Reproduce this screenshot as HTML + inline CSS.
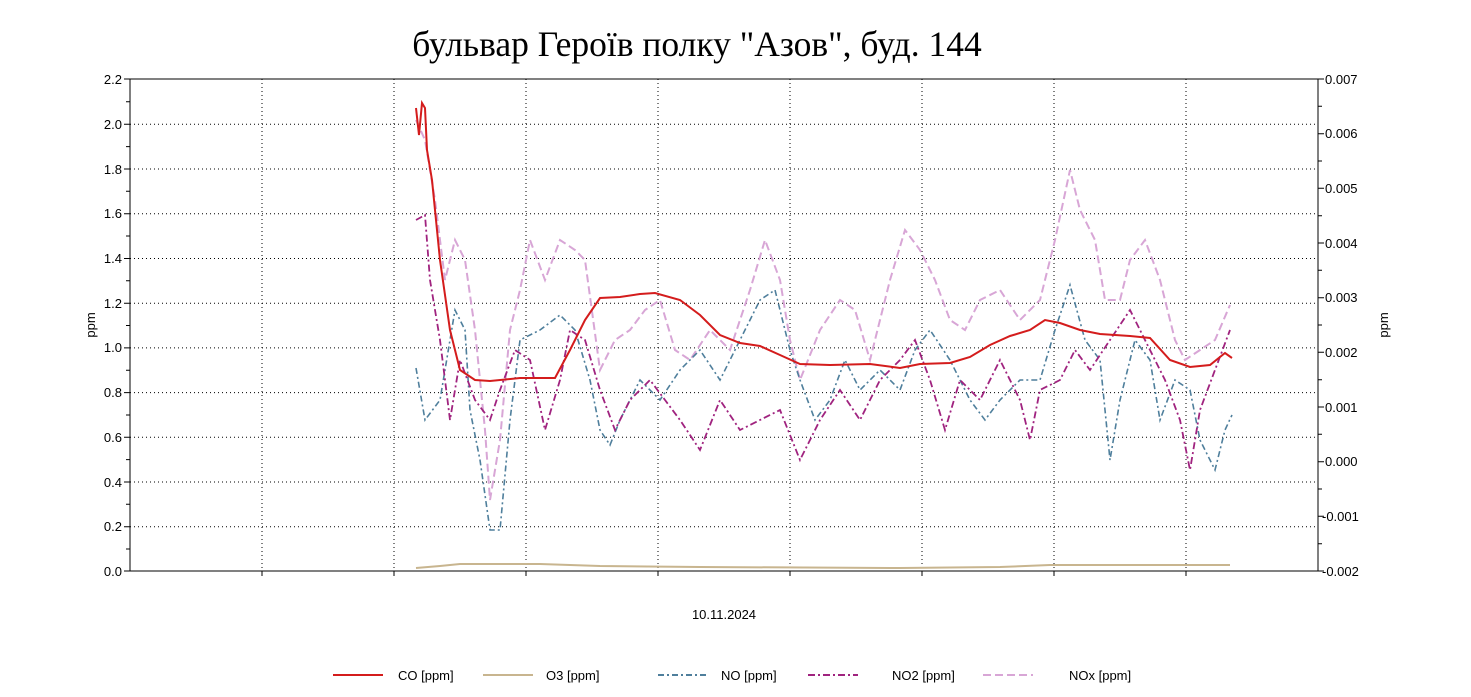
<!DOCTYPE html>
<html><head><meta charset="utf-8"><style>body{margin:0;background:#fff}svg{display:block}</style></head><body>
<svg width="1471" height="697" xmlns="http://www.w3.org/2000/svg" font-family="Liberation Sans, sans-serif">
<rect width="1471" height="697" fill="#fff"/>
<text x="697" y="56" text-anchor="middle" font-family="Liberation Serif, serif" font-size="35.5">бульвар Героїв полку "Азов", буд. 144</text>
<g stroke="#000" stroke-dasharray="1,3" stroke-width="1">
<path d="M262 79V571M394 79V571M526 79V571M658 79V571M790 79V571M922 79V571M1054 79V571M1186 79V571"/>
<path d="M130 124.3H1318M130 169H1318M130 213.7H1318M130 258.5H1318M130 303.2H1318M130 347.9H1318M130 392.6H1318M130 437.2H1318M130 482H1318M130 526.7H1318"/>
</g>
<rect x="130" y="79" width="1188" height="492" fill="none" stroke="#000"/>
<g stroke="#000">
<path d="M262 571v5M394 571v5M526 571v5M658 571v5M790 571v5M922 571v5M1054 571v5M1186 571v5"/>
<path d="M124 79h6M124 124.3h6M124 169h6M124 213.7h6M124 258.5h6M124 303.2h6M124 347.9h6M124 392.6h6M124 437.2h6M124 482h6M124 526.7h6M124 571h6"/>
<path d="M126 101.7h4M126 146.6h4M126 191.3h4M126 236h4M126 280.8h4M126 325.5h4M126 370.2h4M126 415h4M126 459.6h4M126 504.3h4M126 549h4"/>
<path d="M1318 79h6M1318 133.7h6M1318 188.3h6M1318 243h6M1318 297.7h6M1318 352.3h6M1318 407h6M1318 461.7h6M1318 516.3h6M1318 571h6"/>
<path d="M1318 106.3h4M1318 161h4M1318 215.7h4M1318 270.3h4M1318 325h4M1318 379.7h4M1318 434.3h4M1318 489h4M1318 543.7h4"/>
</g>
<g font-size="13" text-anchor="end">
<text x="122" y="84">2.2</text><text x="122" y="129">2.0</text><text x="122" y="174">1.8</text><text x="122" y="218">1.6</text><text x="122" y="263">1.4</text><text x="122" y="308">1.2</text><text x="122" y="352">1.0</text><text x="122" y="397">0.8</text><text x="122" y="442">0.6</text><text x="122" y="487">0.4</text><text x="122" y="531">0.2</text><text x="122" y="576">0.0</text>
</g>
<g font-size="13">
<text x="1325" y="84">0.007</text><text x="1325" y="138">0.006</text><text x="1325" y="193">0.005</text><text x="1325" y="248">0.004</text><text x="1325" y="302">0.003</text><text x="1325" y="357">0.002</text><text x="1325" y="412">0.001</text><text x="1325" y="466">0.000</text><text x="1322" y="521">-0.001</text><text x="1322" y="576">-0.002</text>
</g>
<text transform="translate(95,325) rotate(-90)" font-size="13" text-anchor="middle">ppm</text>
<text transform="translate(1388,325) rotate(-90)" font-size="13" text-anchor="middle">ppm</text>
<text x="724" y="619" font-size="13" text-anchor="middle">10.11.2024</text>
<g fill="none" stroke-width="2">
<polyline stroke="#d8a6d6" stroke-dasharray="8,4" points="416,120 425,140 435,200 445,280 455,240 465,260 475,330 485,430 490,500 500,440 510,330 520,290 530,240 545,280 560,240 575,250 585,260 600,370 615,340 630,330 645,310 660,300 675,350 690,360 710,330 730,350 750,290 765,240 780,280 790,340 800,380 820,330 840,300 855,310 870,360 890,280 905,230 920,250 935,280 950,320 965,330 980,300 1000,290 1020,320 1040,300 1055,240 1070,170 1080,210 1095,240 1105,300 1120,300 1130,260 1145,240 1160,280 1175,340 1185,360 1200,350 1215,340 1230,305"/>
<polyline stroke="#4f7f9c" stroke-width="1.6" stroke-dasharray="6,3,2,3" points="416,368 425,420 440,400 455,310 465,330 470,410 480,460 490,530 500,530 510,420 520,340 540,330 560,315 575,330 590,380 600,430 610,445 620,420 640,380 660,400 680,370 700,350 720,380 740,340 760,300 775,290 790,350 800,380 815,420 830,400 845,360 860,390 880,370 900,390 915,350 930,330 950,360 970,400 985,420 1000,400 1020,380 1040,380 1055,330 1070,285 1085,340 1100,360 1110,460 1120,400 1135,340 1150,360 1160,420 1175,380 1190,390 1200,440 1215,470 1225,430 1232,415"/>
<polyline stroke="#a0237f" stroke-width="1.8" stroke-dasharray="7,3,2,3" points="416,220 425,215 430,280 440,340 450,420 460,360 475,400 490,420 500,390 515,350 530,360 545,430 560,380 570,330 585,340 600,390 615,430 630,400 650,380 665,400 680,420 700,450 720,400 740,430 760,420 780,410 800,460 820,420 840,390 860,420 880,380 900,360 915,340 930,380 945,430 960,380 980,400 1000,360 1020,400 1030,440 1040,390 1060,380 1075,350 1090,370 1110,340 1130,310 1150,350 1165,380 1180,420 1190,470 1200,410 1215,370 1230,330"/>
<polyline stroke="#c8b58f" points="416,568 440,566 460,564 540,564 600,566 700,567 900,568 1000,567 1050,565 1230,565"/>
<polyline stroke="#d41c1c" points="416,108 419,135 422,103 425,108 427,150 432,180 440,260 450,330 460,370 475,380 490,381 520,378 555,378 570,350 585,320 600,298 620,297 640,294 655,293 680,300 700,315 720,335 740,343 760,346 780,355 800,364 830,365 870,364 900,368 920,364 950,363 970,357 990,345 1010,336 1030,330 1045,320 1060,323 1080,330 1100,334 1130,336 1150,338 1170,360 1190,367 1210,365 1225,353 1232,358"/>
</g>
<g stroke-width="2" fill="none">
<path d="M333 675h50" stroke="#d41c1c"/>
<path d="M483 675h50" stroke="#c8b58f"/>
<path d="M658 675h50" stroke="#4f7f9c" stroke-dasharray="6,3,2,3"/>
<path d="M808 675h50" stroke="#a0237f" stroke-dasharray="7,3,2,3"/>
<path d="M983 675h50" stroke="#d8a6d6" stroke-dasharray="8,4"/>
</g>
<g font-size="13">
<text x="398" y="680">CO [ppm]</text><text x="546" y="680">O3 [ppm]</text><text x="721" y="680">NO [ppm]</text><text x="892" y="680">NO2 [ppm]</text><text x="1069" y="680">NOx [ppm]</text>
</g>
</svg>
</body></html>
